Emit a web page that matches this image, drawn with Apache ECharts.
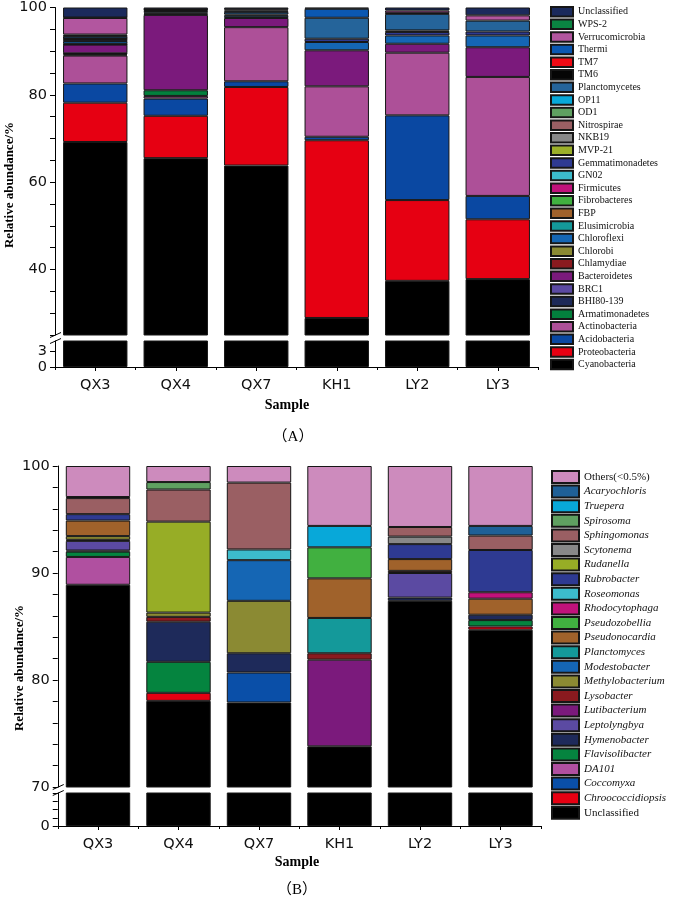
<!DOCTYPE html>
<html><head><meta charset="utf-8">
<script src="https://cdn.jsdelivr.net/npm/echarts@6/dist/echarts.min.js"></script>
<style>html,body{margin:0;padding:0;background:#fff}#c{width:673px;height:899px}</style>
</head><body><div id="c"></div>
<script>
// ---------- DATA ----------
const samples = ['QX3', 'QX4', 'QX7', 'KH1', 'LY2', 'LY3'];

// Panel A: phyla, stack order bottom -> top
const phylaA = ['Cyanobacteria','Proteobacteria','Acidobacteria','Actinobacteria','Armatimonadetes','BHI80-139','BRC1','Bacteroidetes','Chlamydiae','Chlorobi','Chloroflexi','Elusimicrobia','FBP','Fibrobacteres','Firmicutes','GN02','Gemmatimonadetes','MVP-21','NKB19','Nitrospirae','OD1','OP11','Planctomycetes','TM6','TM7','Thermi','Verrucomicrobia','WPS-2','Unclassified'];
const qx3A = [69.2, 9.0, 4.4, 6.4, 0.2, 0.2, 0.1, 2.0, 0.1, 0.1, 0.6, 0, 0, 0, 0.1, 0, 0.3, 0.1, 0, 0, 0, 0.1, 0.5, 0.1, 0, 0.3, 3.8, 0.1, 2.3];
const qx4A = [65.5, 9.7, 3.95, 0.6, 1.3, 0, 0, 17.25, 0, 0, 0.3, 0, 0, 0, 0, 0, 0.2, 0, 0, 0, 0, 0, 0.4, 0, 0, 0.3, 0.1, 0, 0.4];
const qx7A = [63.8, 18.0, 1.3, 12.4, 0, 0, 0, 2.1, 0, 0, 0.5, 0, 0, 0, 0, 0, 0.3, 0, 0, 0, 0, 0, 0.6, 0, 0, 0.3, 0.3, 0, 0.4];
const kh1A = [28.9, 40.7, 0.8, 11.55, 0, 0, 0, 8.25, 0, 0, 1.9, 0, 0, 0, 0, 0, 0.75, 0, 0, 0, 0, 0, 4.8, 0, 0, 2.05, 0, 0, 0.3];
const ly2A = [37.4, 18.5, 19.4, 14.35, 0, 0, 0, 2.05, 0, 0, 1.9, 0, 0, 0, 0, 0, 0.8, 0.35, 0, 0, 0, 0, 3.8, 0.15, 0, 0, 0.6, 0, 0.7];
const ly3A = [37.8, 13.7, 5.35, 27.25, 0, 0, 0, 6.8, 0, 0, 2.7, 0, 0, 0, 0, 0, 0.9, 0, 0, 0, 0, 0, 2.5, 0, 0, 0, 1.2, 0, 1.8];
const yLabelsA = [40, 60, 80, 100];
const yLabelsALow = [0, 3];

// Panel B: genera, stack order bottom -> top
const generaB = ['Unclassified','Chroococcidiopsis','Coccomyxa','DA101','Flavisolibacter','Hymenobacter','Leptolyngbya','Lutibacterium','Lysobacter','Methylobacterium','Modestobacter','Planctomyces','Pseudonocardia','Pseudozobellia','Rhodocytophaga','Roseomonas','Rubrobacter','Rudanella','Scytonema','Sphingomonas','Spirosoma','Truepera','Acaryochloris','Others(<0.5%)'];
const qx3B = [88.9, 0, 0, 2.6, 0.5, 0.1, 0.9, 0, 0.1, 0.35, 0, 0, 1.45, 0, 0, 0, 0.6, 0, 0, 1.5, 0, 0, 0.1, 2.9];
const qx4B = [78.05, 0.75, 0, 0, 2.9, 3.75, 0, 0, 0.45, 0.4, 0, 0, 0, 0, 0, 0, 0, 8.5, 0, 3.0, 0.7, 0, 0, 1.5];
const qx7B = [77.9, 0, 2.8, 0, 0, 1.8, 0, 0, 0, 4.9, 3.8, 0, 0, 0, 0, 1.0, 0, 0, 0, 6.25, 0, 0, 0, 1.55];
const kh1B = [73.8, 0, 0, 0, 0, 0, 0, 8.1, 0.6, 0, 0, 3.3, 3.7, 2.9, 0, 0, 0, 0, 0, 0, 0, 2.0, 0, 5.6];
const ly2B = [87.4, 0, 0, 0, 0, 0.3, 2.3, 0, 0.2, 0, 0, 0, 1.1, 0, 0, 0, 1.4, 0, 0.7, 0.9, 0, 0, 0, 5.7];
const ly3B = [84.7, 0.3, 0, 0, 0.6, 0.5, 0, 0, 0, 0, 0, 0, 1.5, 0, 0.6, 0, 3.95, 0, 0, 1.35, 0, 0, 0.9, 5.6];
const yLabelsB = [70, 80, 90, 100];
const yLabelsBLow = [0];
const plainNamesB = ['Unclassified', 'Others(<0.5%)'];

// ---------- STYLES ----------
const colorsA = ['#000000','#e60012','#0a48a2','#ad5098','#03803d','#1d2958','#5b4aa2','#7b1a7c','#8a1a1f','#8b8a33','#1566b4','#14999a','#a0622b','#41b040','#c0127b','#3cbccc','#2e3a92','#9cb02a','#888888','#9a5f63','#5fa061','#08a8d9','#25649a','#050505','#f00a14','#0b58b2','#b2569f','#0a8442','#1b2a5c'];
const colorsB = ['#000000','#e60012','#0a4fa8','#b050a0','#05843f','#1e2a5a','#5b4aa2','#7b1a7c','#8a1a1f','#8b8a33','#1566b4','#14999a','#a0622b','#41b040','#c0127b','#3cbccc','#2e3a92','#97ad26','#888888','#9a5f63','#5fa061','#08a8d9','#1f6097','#cd8bbd'];
const SANS = '"DejaVu Sans", sans-serif';
const SERIF = '"Liberation Serif", "Noto Sans CJK SC", serif';
const PB = 'B:';

function panelSeries(names, arrays, colors, xi, yi, stackId, prefix) {
  return names.map((n, i) => ({
    name: prefix + n, type: 'bar', stack: stackId,
    xAxisIndex: xi, yAxisIndex: yi, barWidth: '80%',
    itemStyle: { color: colors[i], borderColor: '#161616', borderWidth: 1 },
    data: arrays.map(a => (a[i] ? a[i] : null)),
    animation: false
  }));
}
function baseSeries(names, arrays, colors, xi, yi, prefix) {
  return {
    name: prefix + names[0], type: 'bar', xAxisIndex: xi, yAxisIndex: yi, barWidth: '80%',
    itemStyle: { color: colors[0], borderColor: '#161616', borderWidth: 1 },
    data: arrays.map(a => a[0]), animation: false
  };
}
const arraysA = [qx3A, qx4A, qx7A, kh1A, ly2A, ly3A];
const arraysB = [qx3B, qx4B, qx7B, kh1B, ly2B, ly3B];

const axLine = { show: true, lineStyle: { color: '#000', width: 1 } };
const axTick = (len) => ({ show: true, length: len, lineStyle: { color: '#000', width: 1 } });
const yLab = { fontFamily: SANS, fontSize: 14.5, color: '#111', margin: 8 };

const xAxes = [];
function addX(grid, visible) {
  if (!visible) {
    xAxes.push({ type: 'category', gridIndex: grid, data: samples, show: false });
  } else {
    xAxes.push({ type: 'category', gridIndex: grid, data: samples, position: 'bottom',
      axisLine: axLine, axisTick: Object.assign(axTick(4), { alignWithLabel: true }),
      axisLabel: { fontFamily: SANS, fontSize: 14.5, color: '#111', margin: 11 } });
    xAxes.push({ type: 'category', gridIndex: grid, data: samples, position: 'bottom',
      axisLine: { show: false }, axisTick: axTick(3), axisLabel: { show: false } });
  }
}
addX(0, false); // 0
addX(1, true);  // 1,2
addX(2, false); // 3
addX(3, true);  // 4,5

const yAxes = [
  { type: 'value', gridIndex: 0, min: 25, max: 100, interval: 5, axisLine: axLine, axisTick: axTick(5),
    splitLine: { show: false }, axisLabel: Object.assign({ customValues: yLabelsA }, yLab) },
  { type: 'value', gridIndex: 1, min: 0, max: 5, interval: 1, axisLine: axLine,
    axisTick: Object.assign(axTick(5), { customValues: yLabelsALow }),
    splitLine: { show: false }, axisLabel: Object.assign({ customValues: yLabelsALow }, yLab) },
  { type: 'value', gridIndex: 2, min: 70, max: 100, interval: 2, axisLine: axLine, axisTick: axTick(5),
    splitLine: { show: false }, axisLabel: Object.assign({ customValues: yLabelsB }, yLab) },
  { type: 'value', gridIndex: 3, min: 0, max: 4, interval: 1, axisLine: axLine,
    axisTick: axTick(5),
    splitLine: { show: false }, axisLabel: Object.assign({ customValues: yLabelsBLow }, yLab) }
];

const series = []
  .concat(panelSeries(phylaA, arraysA, colorsA, 0, 0, 'A', ''))
  .concat([baseSeries(phylaA, arraysA, colorsA, 1, 1, '')])
  .concat(panelSeries(generaB, arraysB, colorsB, 3, 2, 'B', PB))
  .concat([baseSeries(generaB, arraysB, colorsB, 4, 3, PB)]);

function brk(x, y) {
  return [
    { type: 'line', shape: { x1: x - 5, y1: y + 2.5, x2: x + 6, y2: y - 2.5 }, style: { stroke: '#000', lineWidth: 1 } }
  ];
}
function txt(t, x, y, font, rot) {
  return { type: 'text', x: x, y: y, rotation: rot || 0,
    style: { text: t, font: font, fill: '#000', align: 'center', verticalAlign: 'middle', textAlign: 'center', textVerticalAlign: 'middle' } };
}

const graphic = []
  .concat(brk(55, 335)).concat(brk(55, 341))
  .concat(brk(57.75, 787)).concat(brk(57.75, 793))
  .concat([
    txt('Relative abundance/%', 10, 185, 'bold 13px ' + SERIF, Math.PI / 2),
    txt('Relative abundance/%', 20, 668, 'bold 13px ' + SERIF, Math.PI / 2),
    txt('Sample', 287, 405, 'bold 14px ' + SERIF),
    txt('Sample', 297, 862, 'bold 14px ' + SERIF),
    txt('（A）', 293, 437, '15px ' + SERIF),
    txt('（B）', 297, 890, '15px ' + SERIF)
  ]);

const option = {
  backgroundColor: '#fff',
  animation: false,
  grid: [
    { left: 55, width: 483, top: 7, height: 328 },
    { left: 55, width: 483, top: 341, height: 26 },
    { left: 57.75, width: 483, top: 466, height: 321 },
    { left: 57.75, width: 483, top: 793, height: 33 }
  ],
  xAxis: xAxes,
  yAxis: yAxes,
  legend: [
    { left: 550, top: 6, padding: 0, orient: 'vertical', icon: 'rect', itemWidth: 22, itemHeight: 9.5, itemGap: 1.1,
      selectedMode: false, data: phylaA.slice().reverse(),
      textStyle: { fontFamily: SERIF, fontSize: 10, color: '#111', lineHeight: 10 } },
    { left: 551, top: 470, padding: 0, orient: 'vertical', icon: 'rect', itemWidth: 27, itemHeight: 12, itemGap: 0.6,
      selectedMode: false, data: generaB.slice().reverse().map(n => PB + n),
      formatter: function (name) {
        const n = name.slice(PB.length);
        return plainNamesB.indexOf(n) >= 0 ? '{n|' + n + '}' : '{i|' + n + '}';
      },
      textStyle: { color: '#111', lineHeight: 12,
        rich: {
          n: { fontFamily: SERIF, fontSize: 11, color: '#111', lineHeight: 12 },
          i: { fontFamily: SERIF, fontSize: 11, fontStyle: 'italic', color: '#111', lineHeight: 12 }
        } } }
  ],
  graphic: graphic,
  series: series
};
const chart = echarts.init(document.getElementById('c'));
chart.setOption(option);
</script>
</body></html>
